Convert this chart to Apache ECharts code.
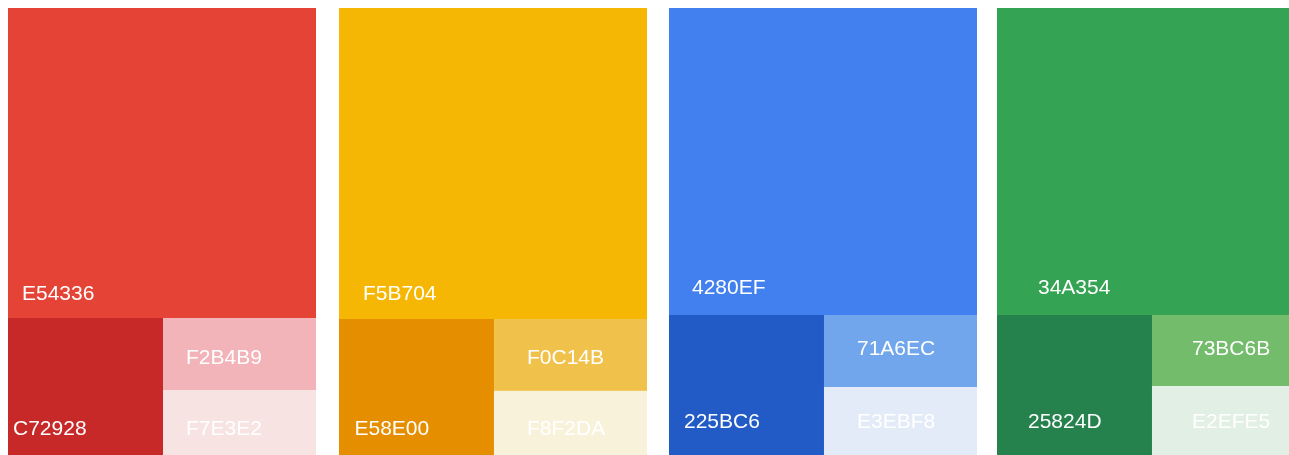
<!DOCTYPE html>
<html>
<head>
<meta charset="utf-8">
<script src="https://cdn.jsdelivr.net/npm/echarts@6/dist/echarts.min.js"></script>
<style>
  html, body { margin: 0; padding: 0; background: #ffffff; }
  #chart { width: 1289px; height: 455px; }
</style>
</head>
<body>
<div id="chart"></div>
<script>
// ---- data: colour names (hex codes) and their share of each palette block (%) ----
// order: main, dark, light, lightest
const redNames    = ['E54336', 'C72928', 'F2B4B9', 'F7E3E2'];
const redShares   = [69.35, 15.42, 8.00, 7.22];
const yellowNames  = ['F5B704', 'E58E00', 'F0C14B', 'F8F2DA'];
const yellowShares = [69.57, 15.31, 7.97, 7.15];
const blueNames   = ['4280EF', '225BC6', '71A6EC', 'E3EBF8'];
const blueShares  = [68.68, 15.76, 8.00, 7.56];
const greenNames  = ['34A354', '25824D', '73BC6B', 'E2EFE5'];
const greenShares = [68.68, 15.76, 7.89, 7.67];

// ---- layout / style (not data) ----
const panelLefts = [8, 339, 669, 997];
const panelTop = 8, panelWidth = 308, panelHeight = 447;
// label placement per block: [dx from left edge, cap-bottom distance from bottom edge]
const labelPlacement = [
  [[14, 18], [5, 20], [23, 26.7], [23, 20]],
  [[24, 19], [15.5, 20], [33, 27.4], [33, 20]],
  [[23, 21.7], [15, 27], [33, 32], [33, 27]],
  [[41, 21.7], [31, 27], [40, 31], [40, 27]]
];

const palettes = [
  [redNames, redShares],
  [yellowNames, yellowShares],
  [blueNames, blueShares],
  [greenNames, greenShares]
];

function leaf(name, value, place) {
  return {
    name: name,
    value: value,
    itemStyle: { color: '#' + name },
    label: {
      position: 'insideBottomLeft',
      offset: [place[0], -(place[1] - 5)]
    }
  };
}

const series = palettes.map(function (p, i) {
  const names = p[0], vals = p[1], pl = labelPlacement[i];
  return {
    type: 'treemap',
    left: panelLefts[i],
    top: panelTop,
    width: panelWidth,
    height: panelHeight,
    roam: false,
    nodeClick: false,
    breadcrumb: { show: false },
    squareRatio: 0.5 * (1 + Math.sqrt(5)),
    animation: false,
    itemStyle: { borderWidth: 0, gapWidth: 0, borderColor: '#' + names[0] },
    label: {
      show: true,
      padding: 0,
      distance: 0,
      color: '#ffffff',
      fontFamily: 'Liberation Sans, Arial, sans-serif',
      fontSize: 21
    },
    emphasis: { disabled: true },
    data: [
      leaf(names[0], vals[0], pl[0]),
      {
        name: 'lower',
        itemStyle: { borderColor: '#' + names[1] },
        children: [
          leaf(names[1], vals[1], pl[1]),
          {
            name: 'right',
            itemStyle: { borderColor: '#' + names[2] },
            children: [
              leaf(names[2], vals[2], pl[2]),
              leaf(names[3], vals[3], pl[3])
            ]
          }
        ]
      }
    ]
  };
});

const chart = echarts.init(document.getElementById('chart'), null, { renderer: 'canvas' });
chart.setOption({
  backgroundColor: '#ffffff',
  animation: false,
  tooltip: { show: false },
  series: series
});
</script>
</body>
</html>
